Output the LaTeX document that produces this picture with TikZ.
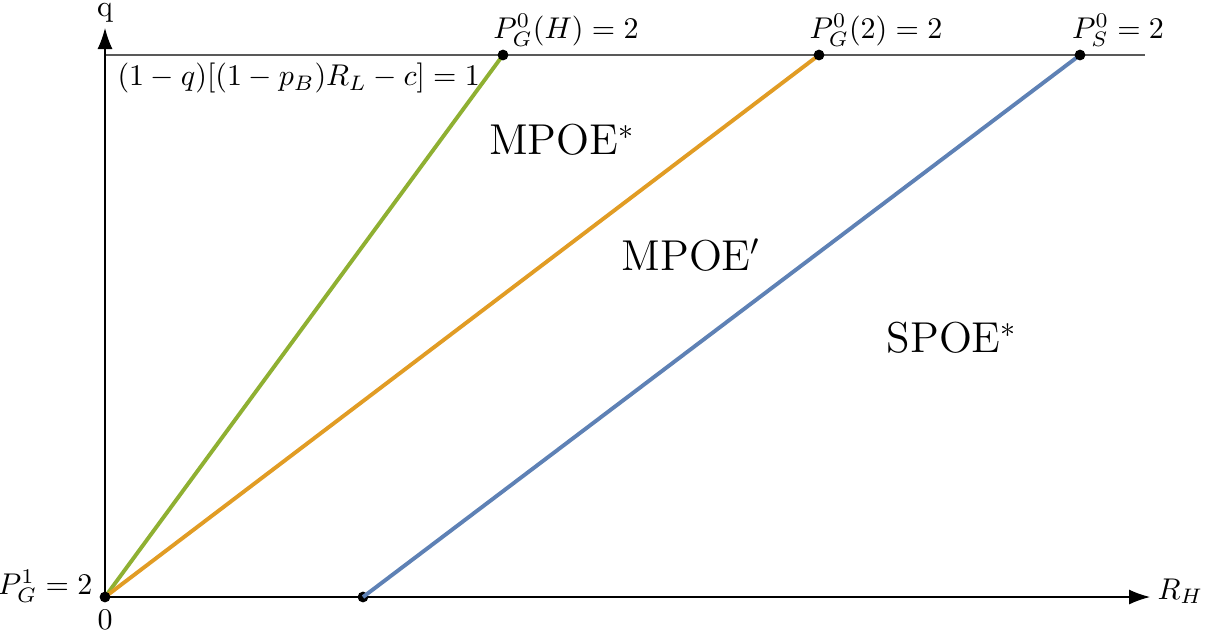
\documentclass[tikz,border=0pt]{standalone}
\usetikzlibrary{arrows.meta}
\definecolor{mgreen}{rgb}{0.560181,0.691569,0.194885}
\definecolor{morange}{rgb}{0.880722,0.611041,0.142051}
\definecolor{mblue}{rgb}{0.368417,0.506779,0.709798}
\begin{document}
\begin{tikzpicture}[x=0.3333pt,y=-0.3333pt,
  axis/.style={line width=0.4pt,-{Latex[length=7pt,width=5pt]}},
  curve/.style={line width=1.3pt},
  dot/.style={circle,fill=black,inner sep=0pt,minimum size=3.6pt},
  region/.style={font=\fontsize{14.4}{17}\selectfont},
  lab/.style={inner sep=1pt}]
\useasboundingbox (0,0) rectangle (1215,637);
\coordinate (O) at (105,597);
\coordinate (B) at (363,597);
\coordinate (TG) at (503,55);
\coordinate (TO) at (819,55);
\coordinate (TS) at (1080,55);
\coordinate (TL) at (105,55);
\coordinate (TR) at (1145,55);
\coordinate (YT) at (105,28);
\coordinate (XT) at (1150,597);
\draw[line width=0.5pt,black!65] (TL) -- (TR);
\draw[axis] (O) -- (YT);
\draw[axis] (O) -- (XT);
\draw[curve,mgreen] (O) -- (TG);
\draw[curve,morange] (O) -- (TO);
\node[dot] (dB) at (B) {};
\draw[curve,mblue] (B) -- (TS);
\node[dot] (dO) at (O) {};
\node[dot] (dTG) at (TG) {};
\node[dot] (dTO) at (TO) {};
\node[dot] (dTS) at (TS) {};
\node[lab] (q) at (105,13) {q};
\node[lab,anchor=west] (RH) at (1154,591) {$R_H$};
\node[lab] (zero) at (105,620) {$0$};
\node[lab,anchor=east] (PG1) at (96,586) {$P^1_G=2$};
\node[lab,anchor=west] (cond) at (114,78) {$(1-q)[(1-p_B)R_L-c]=1$};
\node[lab] (lTG) at (566,30) {$P^0_G(H)=2$};
\node[lab] (lTO) at (876,30) {$P^0_G(2)=2$};
\node[lab] (lTS) at (1118,30) {$P^0_S=2$};
\node[region] (r1) at (562,140) {MPOE$^*$};
\node[region] (r2) at (691,255) {MPOE$'$};
\node[region] (r3) at (952,338) {SPOE$^*$};
\end{tikzpicture}
\end{document}
